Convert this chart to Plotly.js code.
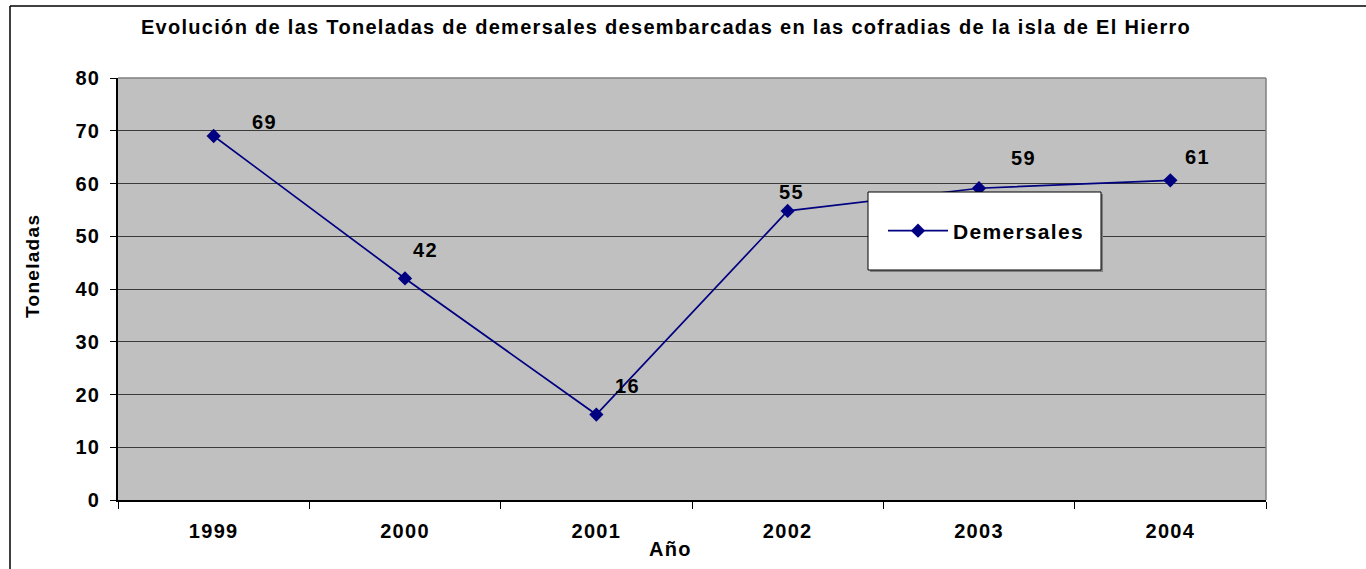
<!DOCTYPE html>
<html>
<head>
<meta charset="utf-8">
<script src="https://cdn.plot.ly/plotly-3.0.1.min.js"></script>
<style>
  html, body { margin: 0; padding: 0; background: #fff; }
  #chart { width: 1366px; height: 569px; }
  text { letter-spacing: 1.3px; }
</style>
</head>
<body>
<div id="chart"></div>
<script>
var years = ['1999', '2000', '2001', '2002', '2003', '2004'];
var demersales = [69, 42, 16.2, 54.8, 59.1, 60.6];
var dataLabels = ['69', '42', '16', '55', '59', '61'];
var seriesName = 'Demersales';
var yTicks = [0, 10, 20, 30, 40, 50, 60, 70, 80];

var FONT = 'Liberation Sans, Arial, sans-serif';
var W = 1366, H = 569;
var M = {l: 118, r: 100, t: 78, b: 69};
var pw = W - M.l - M.r, ph = H - M.t - M.b;
function px2x(p) { return (p - M.l) / pw; }
function px2y(p) { return (H - M.b - p) / ph; }

// label offsets (pixels) relative to each point: [dx, dy] (dy positive = down)
var labelOffsets = [[51, -14], [20, -28], [31, -29], [4, -19], [44, -30], [27, -23]];

var annotations = years.map(function (yr, i) {
  return {
    x: i, y: demersales[i], xref: 'x', yref: 'y',
    text: '<b>' + dataLabels[i] + '</b>', showarrow: false,
    xshift: labelOffsets[i][0], yshift: -labelOffsets[i][1],
    font: {family: FONT, size: 20, color: '#000'}
  };
});
// axis titles
annotations.push({
  xref: 'paper', yref: 'paper', x: px2x(670), y: px2y(549),
  text: '<b>Año</b>', showarrow: false, xanchor: 'center', yanchor: 'middle',
  font: {family: FONT, size: 20, color: '#000'}
});
annotations.push({
  xref: 'paper', yref: 'paper', x: px2x(32), y: px2y(266),
  text: '<b>Toneladas</b>', showarrow: false, textangle: -90, xanchor: 'center', yanchor: 'middle',
  font: {family: FONT, size: 19, color: '#000'}
});

var trace = {
  x: years, y: demersales, type: 'scatter', mode: 'lines+markers',
  name: seriesName,
  line: {color: '#000080', width: 1.7},
  marker: {symbol: 'diamond', size: 11, color: '#000080'},
  hoverinfo: 'x+y'
};

var layout = {
  width: W, height: H,
  margin: M,
  paper_bgcolor: '#ffffff',
  plot_bgcolor: '#c0c0c0',
  showlegend: true,
  title: {
    text: '<b>Evolución de las Toneladas de demersales desembarcadas en las cofradias de la isla de El Hierro</b>',
    font: {family: FONT, size: 20, color: '#000'},
    x: 666 / W, xanchor: 'center', y: 1 - 27 / H, yanchor: 'middle'
  },
  xaxis: {
    type: 'category', range: [-0.5, 5.5],
    tickson: 'boundaries', ticks: 'outside', ticklen: 7, tickcolor: '#000', tickwidth: 1,
    showgrid: false, zeroline: false,
    showline: true, linecolor: '#000', linewidth: 1.5,
    tickfont: {family: FONT, size: 20, color: '#000', weight: 'bold'},
    ticklabelstandoff: 12,
    fixedrange: true
  },
  yaxis: {
    range: [0, 80], tickvals: yTicks, ticktext: yTicks.map(String),
    ticks: 'outside', ticklen: 6, tickcolor: '#000', tickwidth: 1,
    showgrid: true, gridcolor: '#3a3a3a', gridwidth: 1,
    zeroline: false, showline: true, linecolor: '#000', linewidth: 1.5,
    tickfont: {family: FONT, size: 20, color: '#000', weight: 'bold'},
    ticklabelstandoff: 6,
    fixedrange: true
  },
  legend: {
    x: px2x(883), y: px2y(231), xanchor: 'left', yanchor: 'middle',
    bgcolor: 'rgba(0,0,0,0)', borderwidth: 0, itemwidth: 60,
    font: {family: FONT, size: 21, color: '#000', weight: 'bold'},
    itemclick: false, itemdoubleclick: false
  },
  shapes: [
    // outer chart border (left and top)
    {type: 'line', xref: 'paper', yref: 'paper', x0: px2x(10), x1: px2x(10), y0: px2y(6), y1: px2y(H + 5), line: {color: '#000', width: 1.5}},
    {type: 'line', xref: 'paper', yref: 'paper', x0: px2x(10), x1: px2x(W + 5), y0: px2y(6), y1: px2y(6), line: {color: '#000', width: 1.5}},
    // plot area border top/right (gray)
    {type: 'line', xref: 'paper', yref: 'paper', x0: 0, x1: 1, y0: 1, y1: 1, line: {color: '#808080', width: 1.5}},
    {type: 'line', xref: 'paper', yref: 'paper', x0: 1, x1: 1, y0: 0, y1: 1, line: {color: '#808080', width: 1.5}},
    // legend shadow and box
    {type: 'rect', xref: 'paper', yref: 'paper', layer: 'above', x0: px2x(870), x1: px2x(1103), y0: px2y(272), y1: px2y(194), fillcolor: '#808080', line: {width: 0}},
    {type: 'rect', xref: 'paper', yref: 'paper', layer: 'above', x0: px2x(868), x1: px2x(1101), y0: px2y(270), y1: px2y(192), fillcolor: '#ffffff', line: {color: '#000', width: 1}}
  ],
  annotations: annotations
};

Plotly.newPlot('chart', [trace], layout, {displayModeBar: false});
</script>
</body>
</html>
